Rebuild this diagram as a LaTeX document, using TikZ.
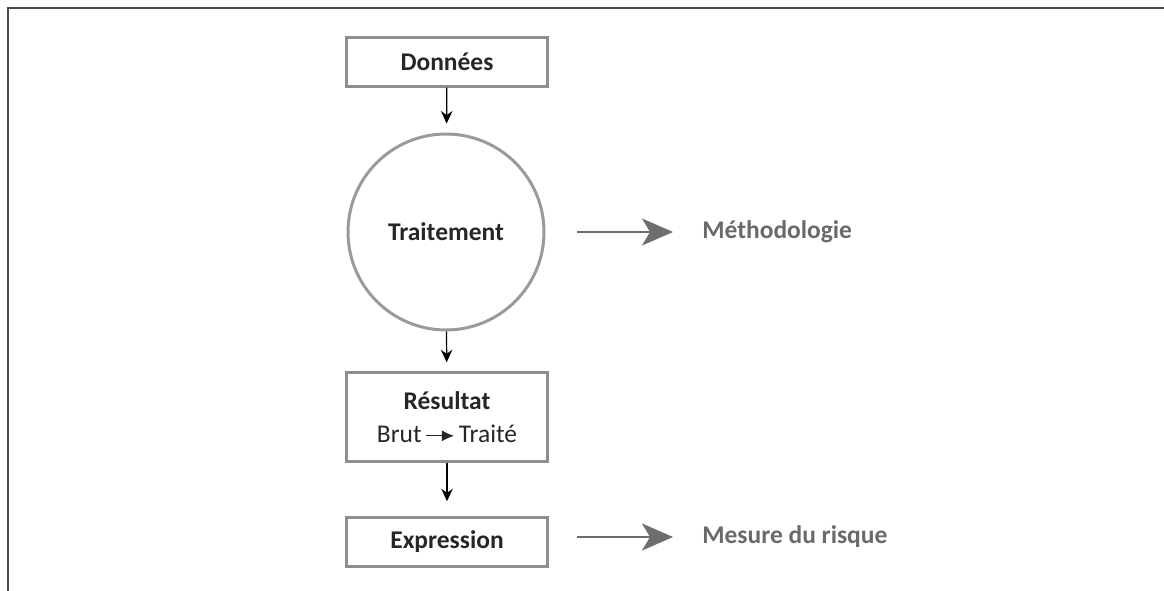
\documentclass[tikz,border=0pt]{standalone}
\usepackage{fontspec}
\setmainfont{Carlito}
\usetikzlibrary{arrows.meta}
\definecolor{cadre}{HTML}{4A4A4A}
\definecolor{boitegris}{HTML}{8E8E8E}
\definecolor{cerclegris}{HTML}{9A9A9A}
\definecolor{flechegris}{HTML}{6E6E6E}
\definecolor{textegris}{HTML}{6A6A6A}
\begin{document}
\begin{tikzpicture}[x=0.02cm, y=-0.02cm,
    every node/.style={font=\fontsize{14.5}{18}\selectfont, text=black!85},
    etape/.style={draw=boitegris, line width=1.7pt, minimum width=4.02cm,
        minimum height=0.97cm, inner sep=0pt, align=center},
    fleche/.style={-{Stealth[length=0.25cm, width=0.23cm]}, line width=0.7pt, black},
    lateral/.style={-{Stealth[length=0.62cm, width=0.54cm, inset=0.16cm]},
        line width=1.3pt, flechegris}]
    \useasboundingbox (0,0) rectangle (1164,591);
    % cadre
    \draw[cadre, line width=1.2pt] (8,591) -- (8,8) -- (1164,8);
    % chaine principale
    \node[etape] (donnees) at (447,62) {\bfseries Données};
    \node[draw=cerclegris, line width=1.7pt, circle, minimum size=3.92cm, inner sep=0pt]
        (traitement) at (446,232) {\bfseries Traitement};
    \node[etape, minimum height=1.77cm] (resultat) at (447,417)
        {\bfseries Résultat\\[1pt]
         Brut\,\tikz[baseline=-0.55ex]\draw[-{Latex[length=2.4mm, width=2.2mm]}, line width=0.7pt] (0,0) -- (0.55cm,0);\,Traité};
    \node[etape] (expression) at (447,542) {\bfseries Expression};
    \draw[fleche, shorten >=0.18cm] (donnees) -- (traitement);
    \draw[fleche, shorten >=0.18cm] (traitement) -- (resultat);
    \draw[fleche, shorten >=0.3cm] (resultat) -- (expression);
    % sorties
    \node[anchor=west, text=textegris, inner sep=0pt] (methodo) at (702,232) {\bfseries Méthodologie};
    \node[anchor=west, text=textegris, inner sep=0pt] (mesure) at (702,537) {\bfseries Mesure du risque};
    \draw[lateral, shorten <=0.64cm, shorten >=0.58cm] (traitement) -- (methodo);
    \draw[lateral, shorten <=0.56cm, shorten >=0.58cm] (expression.east |- mesure) -- (mesure);
\end{tikzpicture}
\end{document}
